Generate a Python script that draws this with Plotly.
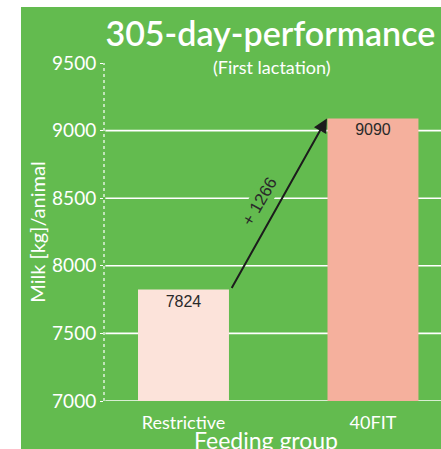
import plotly.graph_objects as go

# data
groups = ["Restrictive", "40FIT"]
milk = [7824, 9090]
y_ticks = [7000, 7500, 8000, 8500, 9000, 9500]
grid_vals = [7000, 7500, 8000, 8500, 9000]

GREEN = "#63bb4f"
bar_colors = ["#fce3da", "#f5b09d"]
FONT = "Lato"

fig = go.Figure()

fig.add_trace(go.Bar(
    x=groups,
    y=milk,
    width=0.48,
    marker=dict(color=bar_colors, line=dict(width=0)),
    text=[str(v) for v in milk],
    textposition="inside",
    insidetextanchor="end",
    textangle=0,
    textfont=dict(family="Liberation Sans", size=16, color="#2a2a2a"),
    hoverinfo="skip",
))

# green panel behind the chart
shapes = [dict(
    type="rect", xref="paper", yref="paper",
    x0=-0.2463, x1=1.01, y0=-0.2, y1=1.1657,
    fillcolor=GREEN, line=dict(width=0), layer="below",
)]
# white gridlines (none at 9500)
for g in grid_vals:
    shapes.append(dict(
        type="line", xref="paper", yref="y",
        x0=0.004, x1=1.0, y0=g, y1=g,
        line=dict(color="white", width=1.6), layer="below",
    ))
# dotted y axis line
shapes.append(dict(
    type="line", xref="paper", yref="y",
    x0=0, x1=0, y0=y_ticks[0], y1=y_ticks[-1],
    line=dict(color="white", width=1.2, dash="dot"), layer="below",
))

annotations = [
    # arrow from the top of one bar to the other
    dict(
        x=1 - 0.243, y=milk[1], ax=0.25, ay=milk[0],
        xref="x", yref="y", axref="x", ayref="y",
        text="", showarrow=True, arrowhead=2, arrowsize=1.4,
        arrowwidth=2, arrowcolor="#1c1c1c", standoff=0, startstandoff=0,
    ),
    dict(
        x=0.404, y=8472, xref="x", yref="y",
        text=f"+ {milk[1] - milk[0]}", showarrow=False, textangle=-60,
        font=dict(family="Liberation Sans", size=17, color="#2a2a2a"),
        bgcolor=GREEN,
    ),
    dict(
        x=0.4985, y=0.988, xref="paper", yref="paper",
        text="(First lactation)", showarrow=False,
        font=dict(family=FONT, size=18, color="white"),
        xanchor="center", yanchor="middle",
    ),
    dict(
        x=0.482, y=-0.115, xref="paper", yref="paper",
        text="Feeding group", showarrow=False,
        font=dict(family=FONT, size=23, color="white"),
        xanchor="center", yanchor="middle",
    ),
]

fig.update_layout(
    width=441,
    height=449,
    margin=dict(l=104, r=0, t=63, b=48),
    paper_bgcolor="white",
    plot_bgcolor="rgba(0,0,0,0)",
    showlegend=False,
    title=dict(
        text="305-day-performance",
        x=0.613, xanchor="center", y=0.925, yanchor="middle",
        font=dict(family=FONT, size=34, color="white", weight=600),
    ),
    xaxis=dict(
        range=[-0.4195, 1.359],
        showgrid=False, showline=False, zeroline=False,
        ticks="", ticklabelstandoff=9,
        tickfont=dict(family=FONT, size=18, color="white"),
    ),
    yaxis=dict(
        range=[7000, 9500],
        tickvals=y_ticks,
        showgrid=False, showline=False, zeroline=False,
        ticks="outside", ticklen=3, tickcolor="white", tickwidth=1,
        tickfont=dict(family=FONT, size=19, color="white"),
        title=dict(text="Milk [kg]/animal", standoff=1,
                   font=dict(family=FONT, size=20, color="white")),
    ),
    shapes=shapes,
    annotations=annotations,
)

# drop the default page margin so the figure fills the window exactly
fig.write_html(
    "out.html",
    config={"displayModeBar": False},
    post_script="document.body.style.margin = '0';",
)
